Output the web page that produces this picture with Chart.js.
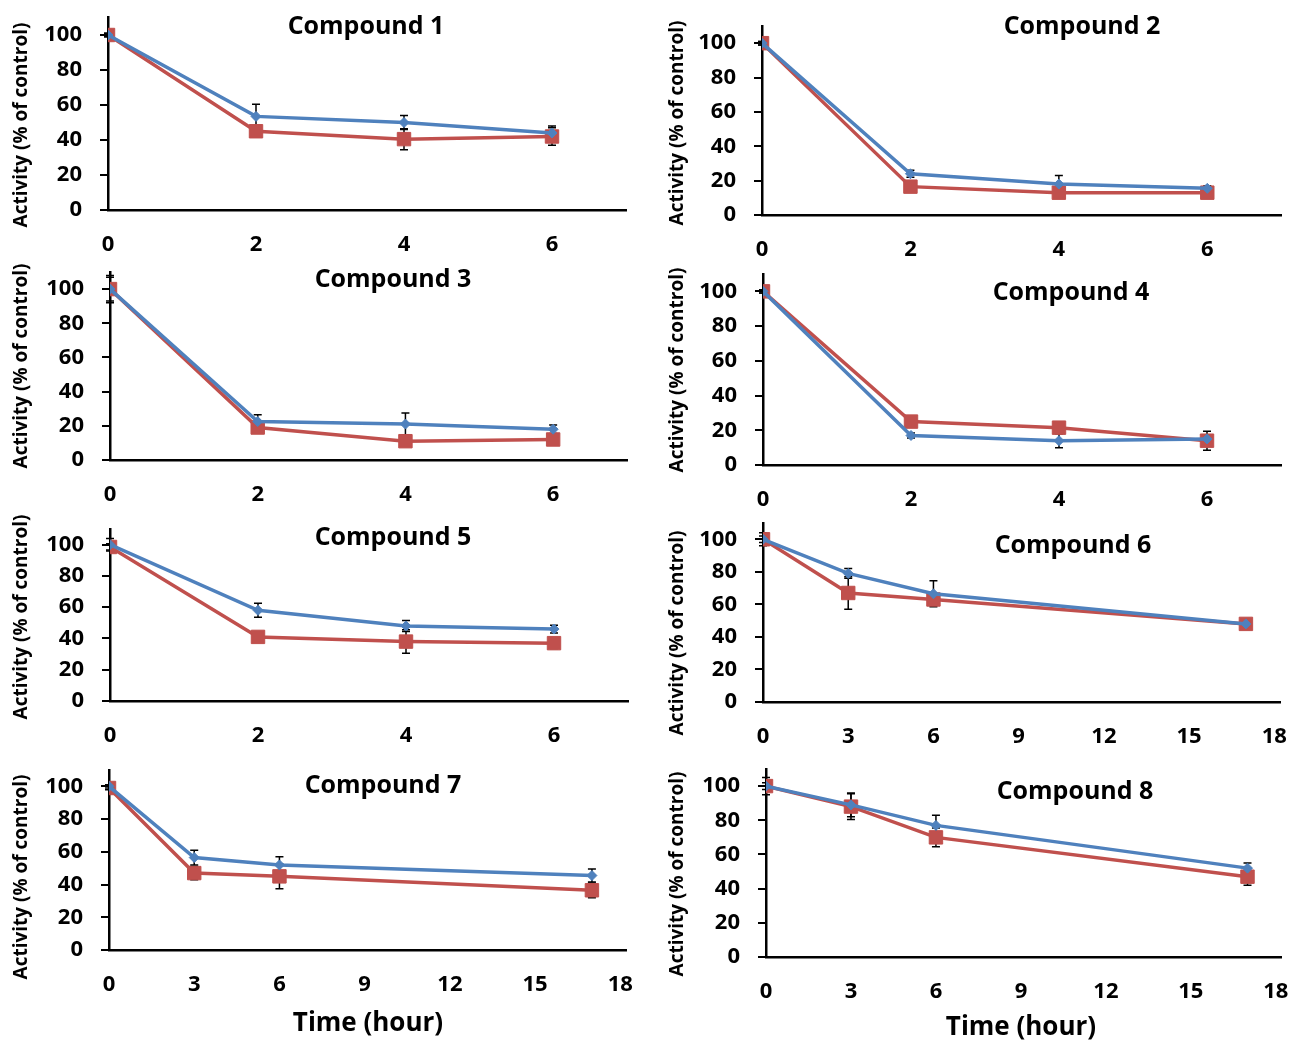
<!DOCTYPE html>
<html>
<head>
<meta charset="utf-8">
<script src="https://cdn.jsdelivr.net/npm/chart.js@4.4.0/dist/chart.umd.min.js"></script>
<style>
  body { margin: 0; background: #fff; }
  #wrap { position: relative; width: 1292px; height: 1042px; }
  #wrap canvas { position: absolute; left: 0; top: 0; }
</style>
</head>
<body>
<div id="wrap"></div>
<script>
// time points (hour)
const hoursShort = [0, 2, 4, 6];
const hoursLong = [0, 3, 6, 17];
const xTicksShort = [0, 2, 4, 6];
const xTicksLong = [0, 3, 6, 9, 12, 15, 18];
const yTicks = [0, 20, 40, 60, 80, 100];

const titles = ['Compound 1', 'Compound 2', 'Compound 3', 'Compound 4',
                'Compound 5', 'Compound 6', 'Compound 7', 'Compound 8'];
const yTitle = 'Activity (% of control)';
const xTitle = 'Time (hour)';

// activity values (blue = diamond series, red = square series) and error bars
const blue1 = [100, 53.5, 50, 44];    const blueErr1 = [1, 7, 4, 4];
const red1 = [100, 45, 40.5, 42];     const redErr1 = [1, 2, 6, 5];
const blue2 = [100, 24, 18, 15.5];    const blueErr2 = [1, 2, 5, 1.5];
const red2 = [100, 16.5, 13, 13];     const redErr2 = [1, 2, 1.5, 1.5];
const blue3 = [100, 22.5, 21, 18];    const blueErr3 = [8, 4, 6.5, 2.5];
const red3 = [100, 19, 11, 12];       const redErr3 = [7, 1.5, 1.5, 1.5];
const blue4 = [100, 17, 14, 15];      const blueErr4 = [1, 1.5, 4, 1];
const red4 = [100, 25, 21.5, 14];     const redErr4 = [1, 2, 2, 5.5];
const blue5 = [100, 58, 48, 46];      const blueErr5 = [4, 4.5, 3.5, 2.5];
const red5 = [98.5, 41, 38, 37];      const redErr5 = [2, 3, 7.5, 3.5];
const blue6 = [100, 79, 66.5, 48];    const blueErr6 = [2, 3, 8, 1.5];
const red6 = [100, 67, 63, 48];       const redErr6 = [4, 10, 2, 2.5];
const blue7 = [100, 56.5, 52, 45.5];  const blueErr7 = [1, 4.5, 5, 4];
const red7 = [99, 47, 45, 36.5];      const redErr7 = [1, 4, 7.5, 4.5];
const blue8 = [100, 89, 77, 52];      const blueErr8 = [5, 7, 6, 3];
const red8 = [100, 88, 70, 47];       const redErr8 = [2, 7.5, 5.5, 5];

const BLUE = '#4F81BD';
const RED = '#C0504D';
const FONT = '"Open Sans", "DejaVu Sans", sans-serif';

// panel placement on the page: plot area [left, top, right, bottom]
const panels = [
  { x: hoursShort, ticks: xTicksShort, xMax: 7, blue: blue1, be: blueErr1, red: red1, re: redErr1,
    area: [108, 17.5, 626, 210], titleAt: [366, 27], yTitleAt: [22, 125] },
  { x: hoursShort, ticks: xTicksShort, xMax: 7, blue: blue2, be: blueErr2, red: red2, re: redErr2,
    area: [762, 26, 1290, 215], titleAt: [1082, 27], yTitleAt: [678, 123] },
  { x: hoursShort, ticks: xTicksShort, xMax: 7, blue: blue3, be: blueErr3, red: red3, re: redErr3,
    area: [110, 272, 627, 460], titleAt: [393, 280], yTitleAt: [22, 366] },
  { x: hoursShort, ticks: xTicksShort, xMax: 7, blue: blue4, be: blueErr4, red: red4, re: redErr4,
    area: [763, 274, 1281, 465], titleAt: [1071, 293], yTitleAt: [678, 370] },
  { x: hoursShort, ticks: xTicksShort, xMax: 7, blue: blue5, be: blueErr5, red: red5, re: redErr5,
    area: [110, 529, 628, 701], titleAt: [393, 538], yTitleAt: [22, 617] },
  { x: hoursLong, ticks: xTicksLong, xMax: 18.2, blue: blue6, be: blueErr6, red: red6, re: redErr6,
    area: [763, 523, 1280, 702], titleAt: [1073, 546], yTitleAt: [678, 633] },
  { x: hoursLong, ticks: xTicksLong, xMax: 18.2, blue: blue7, be: blueErr7, red: red7, re: redErr7,
    area: [109, 770, 626, 950], titleAt: [383, 786], yTitleAt: [22, 877], xTitleAt: [368, 1024] },
  { x: hoursLong, ticks: xTicksLong, xMax: 18.2, blue: blue8, be: blueErr8, red: red8, re: redErr8,
    area: [766, 769, 1282, 957], titleAt: [1075, 792], yTitleAt: [678, 874], xTitleAt: [1021, 1028] }
];

// black error bars with caps, drawn through the chart's own scales
const errorBars = {
  id: 'errorBars',
  beforeDatasetsDraw(chart) {
    const ctx = chart.ctx;
    const xs = chart.scales.x, ys = chart.scales.y;
    chart.data.datasets.forEach(ds => {
      ds.data.forEach((pt, i) => {
        const e = ds.err[i];
        const px = xs.getPixelForValue(pt.x);
        const top = ys.getPixelForValue(pt.y + e);
        const bot = ys.getPixelForValue(pt.y - e);
        ctx.save();
        ctx.strokeStyle = '#000';
        ctx.lineWidth = 1.5;
        ctx.beginPath();
        ctx.moveTo(px, top); ctx.lineTo(px, bot);
        ctx.moveTo(px - 4, top); ctx.lineTo(px + 4, top);
        ctx.moveTo(px - 4, bot); ctx.lineTo(px + 4, bot);
        ctx.stroke();
        ctx.restore();
      });
    });
  }
};

// panel title, rotated y title and the x title under the bottom row
const panelText = {
  id: 'panelText',
  afterDraw(chart, args, opts) {
    const ctx = chart.ctx;
    ctx.save();
    ctx.fillStyle = '#000';
    ctx.textAlign = 'center';
    ctx.textBaseline = 'middle';
    ctx.font = 'bold 25px ' + FONT;
    ctx.fillText(opts.title, opts.titleAt[0], opts.titleAt[1]);
    if (opts.xTitleAt) {
      ctx.font = 'bold 26px ' + FONT;
      ctx.fillText(xTitle, opts.xTitleAt[0], opts.xTitleAt[1]);
    }
    ctx.translate(opts.yTitleAt[0], opts.yTitleAt[1]);
    ctx.rotate(-Math.PI / 2);
    ctx.font = 'bold 19px ' + FONT;
    ctx.fillText(yTitle, 0, 0);
    ctx.restore();
  }
};

const wrap = document.getElementById('wrap');
const Y_W = 70, X_H = 60;

panels.forEach((p, n) => {
  const canvas = document.createElement('canvas');
  canvas.width = 1292;
  canvas.height = 1042;
  wrap.appendChild(canvas);
  const [L, T, R, B] = p.area;

  new Chart(canvas, {
    type: 'line',
    data: {
      datasets: [
        {
          data: p.x.map((x, i) => ({ x: x, y: p.blue[i] })),
          err: p.be,
          borderColor: BLUE, backgroundColor: BLUE, borderWidth: 3.5,
          pointStyle: 'rectRot', pointRadius: 5, pointBorderWidth: 1
        },
        {
          data: p.x.map((x, i) => ({ x: x, y: p.red[i] })),
          err: p.re,
          borderColor: RED, backgroundColor: RED, borderWidth: 3.5,
          pointStyle: 'rect', pointRadius: 9.5, pointBorderWidth: 1
        }
      ]
    },
    options: {
      responsive: false,
      animation: false,
      events: [],
      layout: { padding: { left: L - Y_W, top: T, right: 1292 - R, bottom: 1042 - B - X_H } },
      plugins: {
        legend: { display: false },
        tooltip: { enabled: false },
        panelText: { title: titles[n], titleAt: p.titleAt, yTitleAt: p.yTitleAt, xTitleAt: p.xTitleAt }
      },
      scales: {
        x: {
          type: 'linear', min: 0, max: p.xMax,
          afterBuildTicks: s => { s.ticks = p.ticks.map(v => ({ value: v })); },
          afterFit: s => { s.height = X_H; s.paddingLeft = 0; s.paddingRight = 0; },
          grid: { display: false, drawTicks: false },
          border: { color: '#000', width: 2.5 },
          ticks: { color: '#000', padding: 22, font: { family: FONT, size: 22, weight: 'bold' } }
        },
        y: {
          min: 0, max: 110,
          afterBuildTicks: s => { s.ticks = yTicks.map(v => ({ value: v })); },
          afterFit: s => { s.width = Y_W; s.paddingTop = 0; s.paddingBottom = 0; },
          grid: { drawOnChartArea: false, tickLength: 8, color: '#000', lineWidth: 2 },
          border: { color: '#000', width: 2.5 },
          ticks: { color: '#000', padding: 18, font: { family: FONT, size: 22, weight: 'bold' } }
        }
      }
    },
    plugins: [errorBars, panelText]
  });
});
</script>
</body>
</html>
